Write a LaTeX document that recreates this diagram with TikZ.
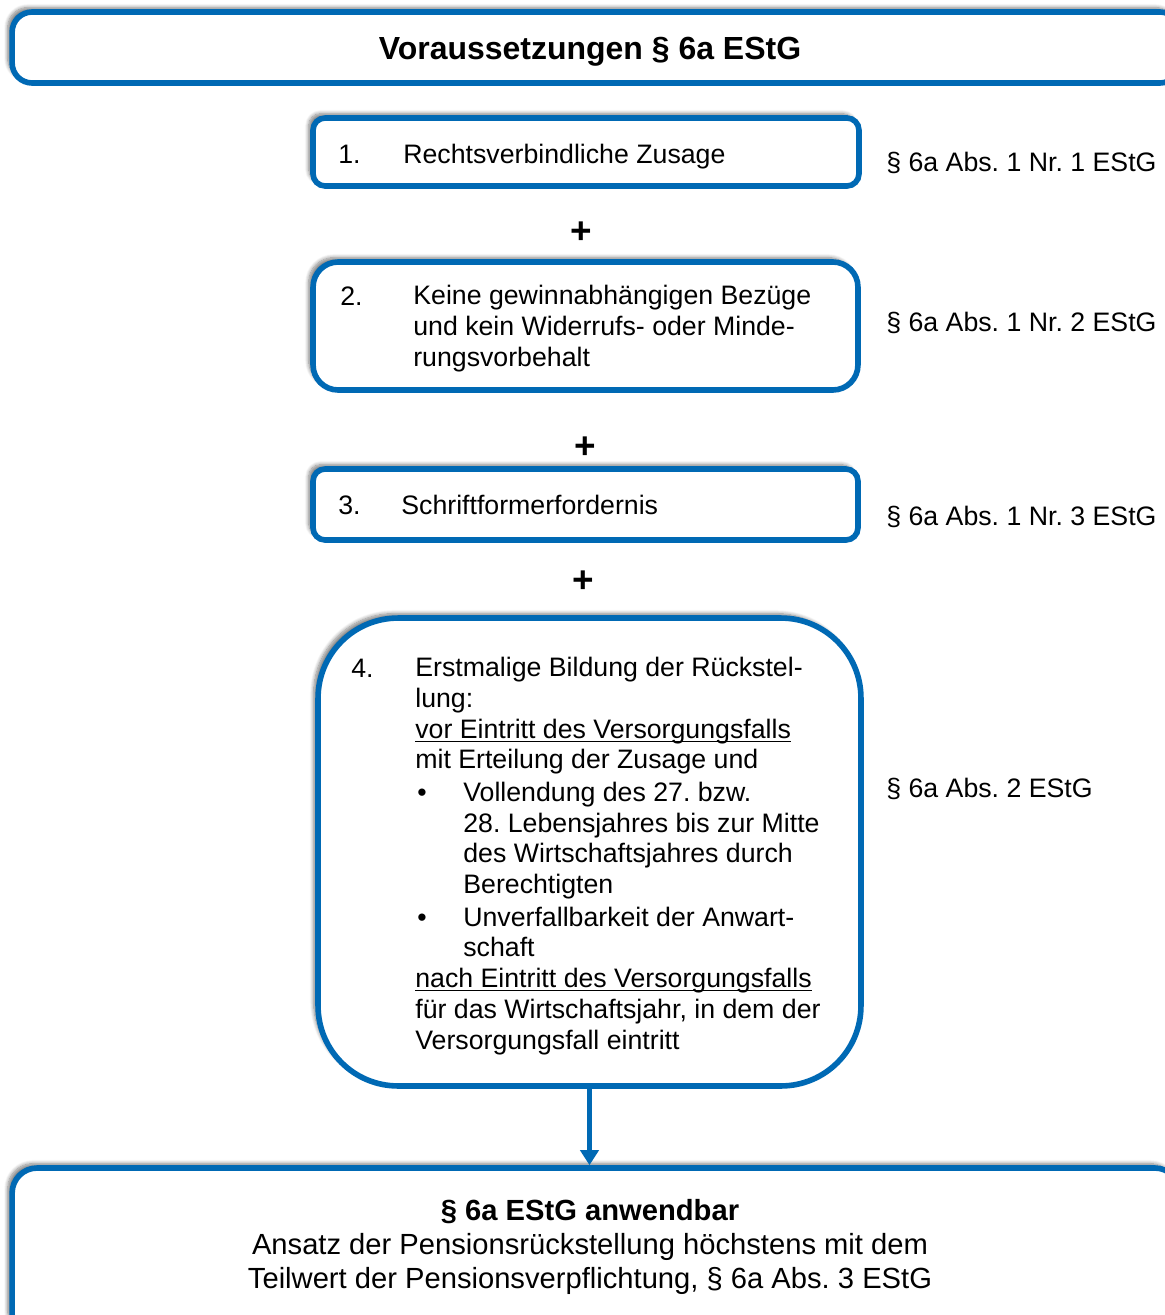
\documentclass[tikz,border=0pt]{standalone}
\usepackage{fontspec}
\setmainfont{Liberation Sans}
\usetikzlibrary{arrows.meta,shadows.blur}
\frenchspacing

\definecolor{vblau}{RGB}{0,105,180}

\tikzset{
  box/.style={draw=vblau, line width=3.2pt, fill=white, inner sep=0pt,
    blur shadow={shadow xshift=-2.5pt, shadow yshift=2.5pt,
      shadow blur steps=8, shadow opacity=50}},
  txt/.style={inner sep=0pt, anchor=base west, align=left,
    font=\fontsize{15.2}{17.5}\selectfont},
  mitte/.style={inner sep=0pt, anchor=base, align=center,
    font=\fontsize{16.6}{19.3}\selectfont},
  plus/.style={inner sep=0pt, font=\fontsize{21}{21}\selectfont\bfseries}
}
\newcommand{\punkt}{\hspace*{0.04cm}\makebox[0.92cm][l]{\textbullet}}
\newcommand{\einzug}{\hspace*{0.96cm}}
\newcommand{\unter}[1]{\setbox0\hbox{#1}\rlap{\rule[-2.2pt]{\wd0}{0.75pt}}\box0}

\begin{document}
\begin{tikzpicture}[x=0.02cm,y=-0.02cm]
  \useasboundingbox (0,0) rectangle (1165,1315);
  \clip (0,0) rectangle (1165,1315);

  % Kopf
  \node[box, rounded corners=0.4cm, minimum width=23.36cm, minimum height=1.42cm]
    (kopf) at (596,47.5) {};
  \node[inner sep=0pt, anchor=base, font=\fontsize{18.2}{18}\selectfont\bfseries]
    (kopftext) at (590,59) {Voraussetzungen § 6a EStG};

  % 1.
  \node[box, rounded corners=0.24cm, minimum width=10.92cm, minimum height=1.36cm]
    (zusage) at (586,152) {};
  \node[txt] (nr1) at (338,163) {1.};
  \node[txt] (zusagetext) at (403,163) {Rechtsverbindliche Zusage};
  \node[plus] (plus1) at (581,233) {+};

  % 2. (Basis = letzte Zeile)
  \node[box, rounded corners=0.5cm, minimum width=10.9cm, minimum height=2.56cm]
    (bezuege) at (585.5,326) {};
  \node[txt] (nr2) at (340,305) {2.};
  \node[txt] (bezuegetext) at (413,366)
    {Keine gewinnabhängigen Bezüge\\und kein Widerrufs- oder Minde-\\rungsvorbehalt};
  \node[plus] (plus2) at (585,448) {+};

  % 3.
  \node[box, rounded corners=0.24cm, minimum width=10.9cm, minimum height=1.42cm]
    (schrift) at (585.5,504.5) {};
  \node[txt] (nr3) at (338,514) {3.};
  \node[txt] (schrifttext) at (401,514) {Schriftformerfordernis};
  \node[plus] (plus3) at (583,582) {+};

  % 4. (Basis = letzte Zeile)
  \node[box, rounded corners=1.6cm, minimum width=10.86cm, minimum height=9.36cm]
    (bildung) at (589.5,852) {};
  \node[txt] (nr4) at (351,677) {4.};
  \node[txt] (bildungtext) at (415,1049)
    {Erstmalige Bildung der Rückstel-\\
     lung:\\
     \unter{vor Eintritt des Versorgungsfalls}\\
     mit Erteilung der Zusage und\\[1pt]
     \punkt Vollendung des 27. bzw.\\
     \einzug 28. Lebensjahres bis zur Mitte\\
     \einzug des Wirtschaftsjahres durch\\
     \einzug Berechtigten\\[1pt]
     \punkt Unverfallbarkeit der Anwart-\\
     \einzug schaft\\
     \unter{nach Eintritt des Versorgungsfalls}\\
     für das Wirtschaftsjahr, in dem der\\
     Versorgungsfall eintritt};

  % Ergebnis
  \node[box, rounded corners=0.5cm, minimum width=23.36cm, minimum height=3.44cm]
    (ergebnis) at (596,1254) {};
  \node[mitte] (ergebnistext) at (590,1288)
    {\textbf{§ 6a EStG anwendbar}\\
     Ansatz der Pensionsrückstellung höchstens mit dem\\
     Teilwert der Pensionsverpflichtung, § 6a Abs. 3 EStG};

  \draw[vblau, line width=2.6pt, -{Triangle[width=0.36cm,length=0.3cm]}]
    (bildung.south) -- (bildung.south |- ergebnis.north);

  % Fundstellen
  \node[txt] (abs1) at (886,171) {§ 6a Abs. 1 Nr. 1 EStG};
  \node[txt] (abs2) at (886,331) {§ 6a Abs. 1 Nr. 2 EStG};
  \node[txt] (abs3) at (886,525) {§ 6a Abs. 1 Nr. 3 EStG};
  \node[txt] (abs4) at (886,797) {§ 6a Abs. 2 EStG};
\end{tikzpicture}
\end{document}
